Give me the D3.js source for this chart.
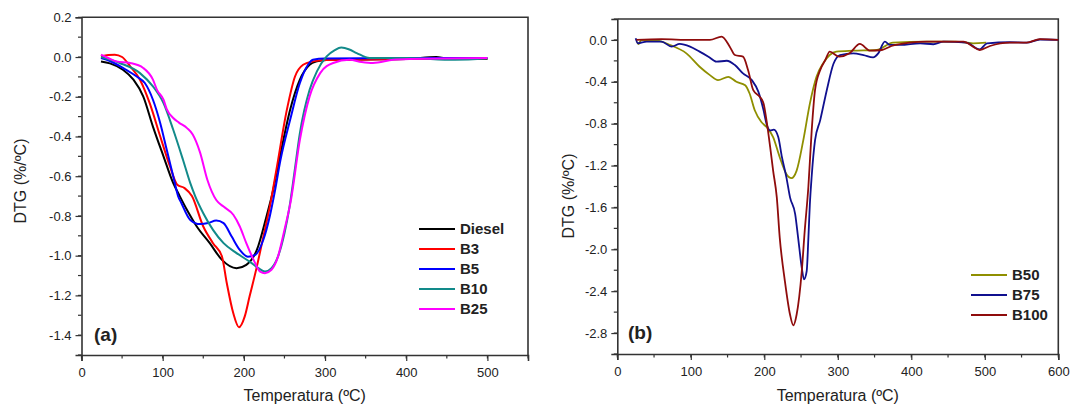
<!DOCTYPE html>
<html>
<head>
<meta charset="utf-8">
<script src="https://cdn.jsdelivr.net/npm/d3@7"></script>
<style>
  html, body { margin: 0; padding: 0; background: #fff; }
  svg { display: block; }
  text { font-family: Arial, "Liberation Sans", sans-serif; fill: #222; }
</style>
</head>
<body>
<svg id="chart" width="1070" height="406"></svg>
<script>
// ---------- Panel (a) data: [Temperature °C, DTG %/°C] ----------
const dieselA = [[24,-0.022],[35,-0.032],[51,-0.064],[64,-0.114],[76,-0.198],[88,-0.35],[101,-0.50],[113,-0.635],[121,-0.70],[130,-0.77],[142,-0.853],[158,-0.937],[173,-1.021],[191,-1.063],[203,-1.046],[216,-0.971],[228,-0.80],[235,-0.69],[244,-0.51],[257,-0.265],[269,-0.114],[281,-0.039],[290,-0.022],[302,-0.015],[350,-0.012],[400,-0.01],[437,0.0],[450,-0.008],[500,-0.01]];
const b3A = [[24,0.003],[33,0.01],[41,0.012],[50,0.0],[60,-0.047],[72,-0.114],[84,-0.232],[97,-0.40],[109,-0.551],[118,-0.643],[127,-0.66],[136,-0.70],[150,-0.853],[162,-0.937],[173,-1.004],[179,-1.139],[187,-1.29],[194,-1.36],[201,-1.307],[207,-1.206],[216,-1.055],[224,-0.904],[232,-0.753],[240,-0.57],[253,-0.265],[263,-0.098],[273,-0.039],[285,-0.022],[300,-0.015],[400,-0.01],[500,-0.008]];
const b5A = [[24,-0.005],[35,-0.02],[51,-0.055],[68,-0.098],[78,-0.131],[88,-0.215],[97,-0.333],[105,-0.467],[113,-0.60],[119,-0.70],[123,-0.735],[134,-0.82],[146,-0.841],[156,-0.836],[166,-0.823],[175,-0.836],[185,-0.904],[195,-0.971],[205,-1.005],[214,-0.996],[224,-0.92],[232,-0.80],[238,-0.68],[245,-0.52],[257,-0.316],[269,-0.131],[279,-0.039],[285,-0.014],[300,-0.008],[400,-0.005],[500,-0.005]];
const b10A = [[24,0.0],[47,-0.03],[72,-0.081],[88,-0.148],[101,-0.232],[113,-0.366],[125,-0.517],[134,-0.635],[140,-0.70],[150,-0.786],[162,-0.87],[175,-0.937],[191,-0.987],[207,-1.03],[218,-1.063],[226,-1.08],[234,-1.063],[242,-1.005],[250,-0.887],[256,-0.76],[262,-0.59],[269,-0.383],[281,-0.165],[290,-0.072],[302,0.003],[312,0.035],[320,0.048],[330,0.038],[339,0.02],[355,-0.005],[400,-0.005],[460,-0.014],[500,-0.008]];
const b25A = [[24,0.012],[33,-0.005],[43,-0.022],[60,-0.03],[76,-0.055],[88,-0.114],[93,-0.165],[101,-0.215],[105,-0.262],[113,-0.307],[120,-0.33],[130,-0.358],[137,-0.39],[146,-0.48],[155,-0.618],[166,-0.72],[175,-0.753],[187,-0.794],[195,-0.853],[203,-0.937],[212,-1.021],[220,-1.08],[226,-1.088],[234,-1.071],[242,-1.005],[250,-0.87],[258,-0.72],[269,-0.417],[281,-0.198],[294,-0.081],[310,-0.03],[330,-0.014],[345,-0.025],[359,-0.03],[384,-0.014],[404,-0.01],[500,-0.005]];

// ---------- Panel (b) data ----------
const b50B = [[27,-0.02],[28.6,-0.04],[33,0.0],[54,-0.007],[72,-0.048],[94,-0.128],[112,-0.256],[126,-0.336],[137,-0.384],[151,-0.352],[162,-0.40],[174,-0.432],[180,-0.512],[187,-0.672],[196,-0.784],[203,-0.832],[212,-0.928],[221,-1.12],[230,-1.28],[237,-1.32],[244,-1.248],[253,-0.96],[262,-0.608],[271,-0.352],[280,-0.224],[289,-0.144],[298,-0.112],[321,-0.103],[353,-0.096],[375,-0.026],[421,-0.016],[460,-0.016],[484,-0.032],[502,-0.026]];
const b75B = [[25,0.016],[28,-0.032],[40,-0.016],[60,-0.016],[74,-0.064],[85,-0.038],[99,-0.064],[112,-0.112],[124,-0.16],[135,-0.208],[149,-0.199],[160,-0.24],[171,-0.32],[183,-0.384],[192,-0.496],[199,-0.672],[203,-0.80],[208,-0.864],[213,-0.857],[219,-0.928],[224,-1.12],[230,-1.31],[235,-1.504],[242,-1.664],[246,-1.888],[251,-2.176],[254,-2.287],[257.7,-2.207],[260,-1.888],[262,-1.567],[264.5,-1.3],[269,-0.96],[276,-0.768],[285,-0.48],[294,-0.23],[303,-0.144],[321,-0.128],[335,-0.144],[348,-0.166],[355,-0.128],[364,-0.016],[371,-0.048],[385,-0.048],[412,-0.032],[430,-0.041],[444,-0.016],[475,-0.026],[493,-0.09],[503,-0.032],[534,-0.022],[557,-0.026],[575,0.004],[600,0.0]];
const b100B = [[26,0.0],[60,0.007],[100,0.0],[126,0.0],[142,0.032],[153,-0.064],[160,-0.144],[171,-0.16],[178,-0.29],[185,-0.48],[194,-0.544],[199,-0.608],[203,-0.768],[208,-1.024],[212,-1.248],[217,-1.504],[221,-1.888],[228,-2.303],[235,-2.623],[239.5,-2.726],[244,-2.623],[251,-2.207],[255,-1.823],[260,-1.4],[264.5,-0.864],[269,-0.48],[276,-0.288],[283,-0.192],[289,-0.112],[302,-0.16],[316,-0.128],[330,-0.038],[344,-0.103],[360,-0.096],[373,-0.058],[398,-0.026],[421,-0.016],[471,-0.016],[484,-0.064],[493,-0.096],[507,-0.058],[534,-0.026],[557,-0.026],[575,0.007],[600,0.0]];

// ---------- Labels / ticks ----------
const legendA = ["Diesel","B3","B5","B10","B25"];
const colorsA = ["#000000","#ff0000","#0000ff","#128a8a","#ff00ff"];
const legendB = ["B50","B75","B100"];
const colorsB = ["#8f8f00","#10108f","#8f0c0c"];
const xTicksA = [0,100,200,300,400,500];
const yTicksA = [0.2,0.0,-0.2,-0.4,-0.6,-0.8,-1.0,-1.2,-1.4];
const xTicksB = [0,100,200,300,400,500,600];
const yTicksB = [0.0,-0.4,-0.8,-1.2,-1.6,-2.0,-2.4,-2.8];
const xTitle = "Temperatura (ºC)";
const yTitle = "DTG (%/ºC)";

const svg = d3.select("#chart");
const fmt = v => (Math.abs(v) < 1e-9 ? 0 : v).toFixed(1);
const fmtX = v => String(v);

function panel(cfg) {
  const x = d3.scaleLinear().domain(cfg.xDom).range([cfg.left, cfg.right]);
  const y = d3.scaleLinear().domain(cfg.yDom).range([cfg.bottom, cfg.top]);
  const g = svg.append("g");

  const xMinor = d3.range(cfg.xDom[0], cfg.xDom[1] + 0.001, cfg.xMinor);
  const yMinor = d3.range(0, 40).map(i => +(cfg.yDom[0] + i * cfg.yMinor).toFixed(4)).filter(v => v <= cfg.yDom[1] + 1e-6);

  const axisColor = "#333";
  const xa = g.append("g").attr("transform", `translate(0,${cfg.bottom})`)
    .call(d3.axisBottom(x).tickValues(cfg.xTicks).tickFormat(fmtX).tickSize(6).tickPadding(4));
  xa.append("g").selectAll("line").data(xMinor).join("line")
    .attr("x1", d => x(d)).attr("x2", d => x(d)).attr("y1", 0).attr("y2", 3.5)
    .attr("stroke", axisColor).attr("stroke-width", 1.2);
  const ya = g.append("g").attr("transform", `translate(${cfg.left},0)`)
    .call(d3.axisLeft(y).tickValues(cfg.yTicks).tickFormat(fmt).tickSize(6).tickPadding(4));
  ya.append("g").selectAll("line").data(yMinor).join("line")
    .attr("y1", d => y(d)).attr("y2", d => y(d)).attr("x1", 0).attr("x2", -3.5)
    .attr("stroke", axisColor).attr("stroke-width", 1.2);

  [xa, ya].forEach(a => {
    a.select(".domain").attr("stroke", axisColor).attr("stroke-width", 1.6);
    a.selectAll(".tick line").attr("stroke", axisColor).attr("stroke-width", 1.2);
    a.selectAll(".tick text").attr("font-size", 13).attr("fill", "#222")
      .attr("font-family", "Arial, 'Liberation Sans', sans-serif");
  });
  xa.selectAll(".tick text").attr("dy", "0.95em");
  g.append("path")
    .attr("d", `M${cfg.left},${cfg.top}H${cfg.right}V${cfg.bottom}`)
    .attr("fill", "none").attr("stroke", axisColor).attr("stroke-width", 1.6);

  const line = d3.line().x(d => x(d[0])).y(d => y(d[1])).curve(d3.curveMonotoneX);
  cfg.series.forEach((s, i) => {
    g.append("path").datum(s).attr("d", line).attr("fill", "none")
      .attr("stroke", cfg.colors[i]).attr("stroke-width", cfg.lw)
      .attr("stroke-linejoin", "round");
  });

  g.append("text").attr("x", (cfg.left + cfg.right) / 2).attr("y", 401)
    .attr("text-anchor", "middle").attr("font-size", 16).text(xTitle);
  g.append("text").attr("transform", `translate(${cfg.yTitleX},${cfg.yTitleY}) rotate(-90)`)
    .attr("text-anchor", "middle").attr("font-size", 16).text(yTitle);

  g.append("text").attr("x", cfg.tagX).attr("y", cfg.tagY).attr("font-size", 19)
    .attr("font-weight", "bold").text(cfg.tag);

  cfg.legend.forEach((name, i) => {
    const yy = cfg.legY + i * 20;
    g.append("line").attr("x1", cfg.legX).attr("x2", cfg.legX + 36).attr("y1", yy).attr("y2", yy)
      .attr("stroke", cfg.colors[i]).attr("stroke-width", 2);
    g.append("text").attr("x", cfg.legX + 41).attr("y", yy).attr("dy", "0.36em")
      .attr("font-size", 15).attr("font-weight", "bold").text(name);
  });
}

panel({
  xDom: [0, 550], yDom: [-1.5, 0.2], left: 81.5, right: 528, top: 17.3, bottom: 355,
  xTicks: xTicksA, yTicks: yTicksA, xMinor: 50, yMinor: 0.1,
  series: [dieselA, b3A, b5A, b10A, b25A], colors: colorsA, lw: 2,
  legend: legendA, legX: 419, legY: 229, tag: "(a)", tagX: 94, tagY: 341, yTitleX: 26, yTitleY: 181
});
panel({
  xDom: [0, 600], yDom: [-3.0, 0.2], left: 617.3, right: 1058.3, top: 19, bottom: 354,
  xTicks: xTicksB, yTicks: yTicksB, xMinor: 50, yMinor: 0.2,
  series: [b50B, b75B, b100B], colors: colorsB, lw: 1.8,
  legend: legendB, legX: 971, legY: 275, tag: "(b)", tagX: 628, tagY: 339, yTitleX: 574, yTitleY: 196
});
</script>
</body>
</html>
